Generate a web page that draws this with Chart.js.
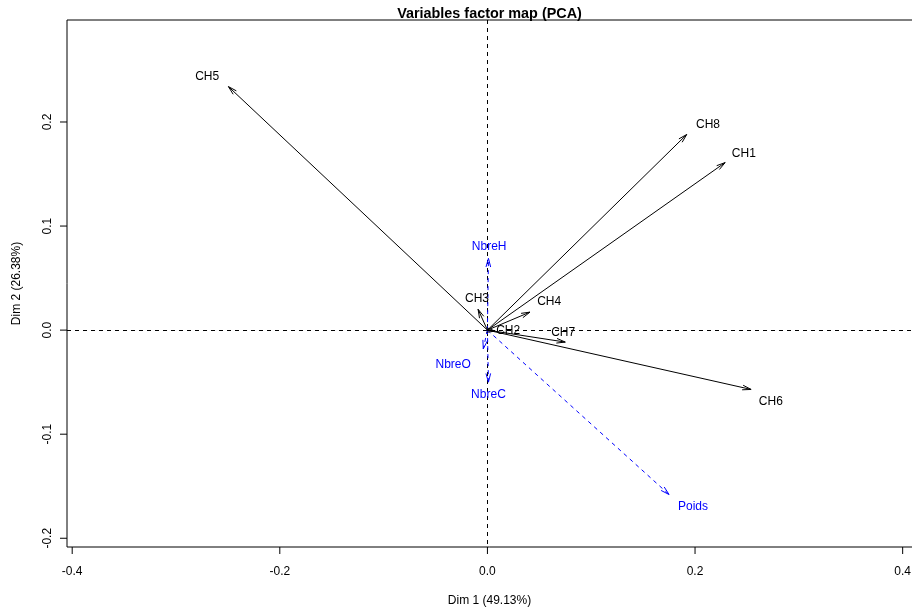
<!DOCTYPE html>
<html>
<head>
<meta charset="utf-8">
<script src="https://cdn.jsdelivr.net/npm/chart.js@4/dist/chart.umd.min.js"></script>
<style>
  html, body { margin: 0; padding: 0; background: #fff; overflow: hidden; }
  #wrap { width: 912px; height: 612px; position: relative; }
</style>
</head>
<body>
<div id="wrap"><canvas id="pca" width="912" height="612"></canvas></div>
<script>
// ── Data ─────────────────────────────────────────────────────────────────
const activeVars = ['CH1', 'CH2', 'CH3', 'CH4', 'CH5', 'CH6', 'CH7', 'CH8'];
const activeDim1 = [0.229, 0.0075, -0.009, 0.041, -0.2495, 0.254, 0.075, 0.192];
const activeDim2 = [0.161, -0.001, 0.020, 0.0173, 0.234, -0.057, -0.0115, 0.188];
const activeLabDim1 = [0.247, 0.020, -0.010, 0.0595, -0.270, 0.273, 0.073, 0.2125];
const activeLabDim2 = [0.170, -0.001, 0.030, 0.027, 0.2435, -0.069, -0.002, 0.197];

const suppVars = ['NbreH', 'NbreO', 'NbreC', 'Poids'];
const suppDim1 = [0.001, -0.004, 0.001, 0.175];
const suppDim2 = [0.069, -0.018, -0.050, -0.158];
const suppLabDim1 = [0.0017, -0.033, 0.001, 0.198];
const suppLabDim2 = [0.080, -0.033, -0.062, -0.170];

const xTicks = [-0.4, -0.2, 0.0, 0.2, 0.4];
const yTicks = [-0.2, -0.1, 0.0, 0.1, 0.2];
const xTitle = 'Dim 1 (49.13%)';
const yTitle = 'Dim 2 (26.38%)';
const mainTitle = 'Variables factor map (PCA)';

const FONT = "'Liberation Sans', Arial, sans-serif";
const BLUE = '#0000ff';

// one two-point line per variable, from the origin to its coordinates
function arrowSets(names, d1, d2, color, dash) {
    return names.map((n, i) => ({
        label: n,
        data: [{ x: 0, y: 0 }, { x: d1[i], y: d2[i] }],
        showLine: true,
        borderColor: color,
        borderWidth: 1,
        borderDash: dash,
        pointRadius: 0,
        pointHoverRadius: 0,
        fill: false,
    }));
}

function arrowHead(ctx, x1, y1, x2, y2) {
    const ang = Math.atan2(y2 - y1, x2 - x1);
    const len = 9;
    const spread = Math.PI / 12;
    ctx.beginPath();
    ctx.moveTo(x2 - len * Math.cos(ang - spread), y2 - len * Math.sin(ang - spread));
    ctx.lineTo(x2, y2);
    ctx.lineTo(x2 - len * Math.cos(ang + spread), y2 - len * Math.sin(ang + spread));
    ctx.stroke();
}

// ── Frame, axes, dashed origin lines ──────────────────────────────────────
const pcaFrame = {
    id: 'pcaFrame',
    beforeDatasetsDraw(chart) {
        const { ctx, chartArea: a, scales: { x, y } } = chart;
        ctx.save();
        ctx.strokeStyle = '#000';
        ctx.lineWidth = 1;

        // dashed lines through the origin
        ctx.setLineDash([4, 4]);
        const x0 = Math.floor(x.getPixelForValue(0)) + 0.5;
        const y0 = Math.floor(y.getPixelForValue(0)) + 0.5;
        ctx.beginPath();
        ctx.moveTo(x0, a.top); ctx.lineTo(x0, a.bottom);
        ctx.moveTo(a.left, y0); ctx.lineTo(a.right, y0);
        ctx.stroke();
        ctx.setLineDash([]);

        // box (right side falls off the picture)
        ctx.beginPath();
        ctx.moveTo(a.right, a.top);
        ctx.lineTo(a.left, a.top);
        ctx.lineTo(a.left, a.bottom);
        ctx.lineTo(a.right, a.bottom);
        ctx.stroke();

        // ticks + labels
        ctx.fillStyle = '#000';
        ctx.font = `12px ${FONT}`;
        ctx.textAlign = 'center';
        ctx.textBaseline = 'alphabetic';
        xTicks.forEach((v) => {
            const px = x.getPixelForValue(v);
            ctx.beginPath();
            ctx.moveTo(px, a.bottom); ctx.lineTo(px, a.bottom + 7);
            ctx.stroke();
            ctx.fillText(v.toFixed(1), px, a.bottom + 28);
        });
        yTicks.forEach((v) => {
            const py = y.getPixelForValue(v);
            ctx.beginPath();
            ctx.moveTo(a.left, py); ctx.lineTo(a.left - 7, py);
            ctx.stroke();
            ctx.save();
            ctx.translate(a.left - 16, py);
            ctx.rotate(-Math.PI / 2);
            ctx.fillText(v.toFixed(1), 0, 0);
            ctx.restore();
        });

        // titles
        const cx = (a.left + a.right) / 2;
        const cy = (a.top + a.bottom) / 2;
        ctx.fillText(xTitle, cx, a.bottom + 57);
        ctx.save();
        ctx.translate(20, cy);
        ctx.rotate(-Math.PI / 2);
        ctx.fillText(yTitle, 0, 0);
        ctx.restore();
        ctx.font = `bold 14.4px ${FONT}`;
        ctx.fillText(mainTitle, cx, 18);
        ctx.restore();
    },
    afterDatasetsDraw(chart) {
        const { ctx, scales: { x, y } } = chart;
        const ox = x.getPixelForValue(0);
        const oy = y.getPixelForValue(0);
        ctx.save();
        ctx.lineWidth = 1;
        ctx.font = `12px ${FONT}`;
        ctx.textAlign = 'center';
        ctx.textBaseline = 'middle';

        const groups = [
            [activeVars, activeDim1, activeDim2, activeLabDim1, activeLabDim2, '#000'],
            [suppVars, suppDim1, suppDim2, suppLabDim1, suppLabDim2, BLUE],
        ];
        for (const [names, d1, d2, l1, l2, col] of groups) {
            ctx.strokeStyle = col;
            ctx.fillStyle = col;
            names.forEach((n, i) => {
                arrowHead(ctx, ox, oy, x.getPixelForValue(d1[i]), y.getPixelForValue(d2[i]));
                ctx.fillText(n, x.getPixelForValue(l1[i]), y.getPixelForValue(l2[i]));
            });
        }
        ctx.restore();
    },
};

new Chart(document.getElementById('pca'), {
    type: 'scatter',
    data: {
        datasets: [
            ...arrowSets(activeVars, activeDim1, activeDim2, '#000', []),
            ...arrowSets(suppVars, suppDim1, suppDim2, BLUE, [4, 4]),
        ],
    },
    options: {
        responsive: false,
        animation: false,
        devicePixelRatio: 1,
        layout: { padding: { left: 67, top: 20, right: 0, bottom: 65 } },
        plugins: { legend: { display: false }, tooltip: { enabled: false }, title: { display: false } },
        events: [],
        scales: {
            x: { type: 'linear', display: false, min: -0.405, max: 0.409 },
            y: { type: 'linear', display: false, min: -0.2084, max: 0.298 },
        },
    },
    plugins: [pcaFrame],
});
</script>
</body>
</html>
